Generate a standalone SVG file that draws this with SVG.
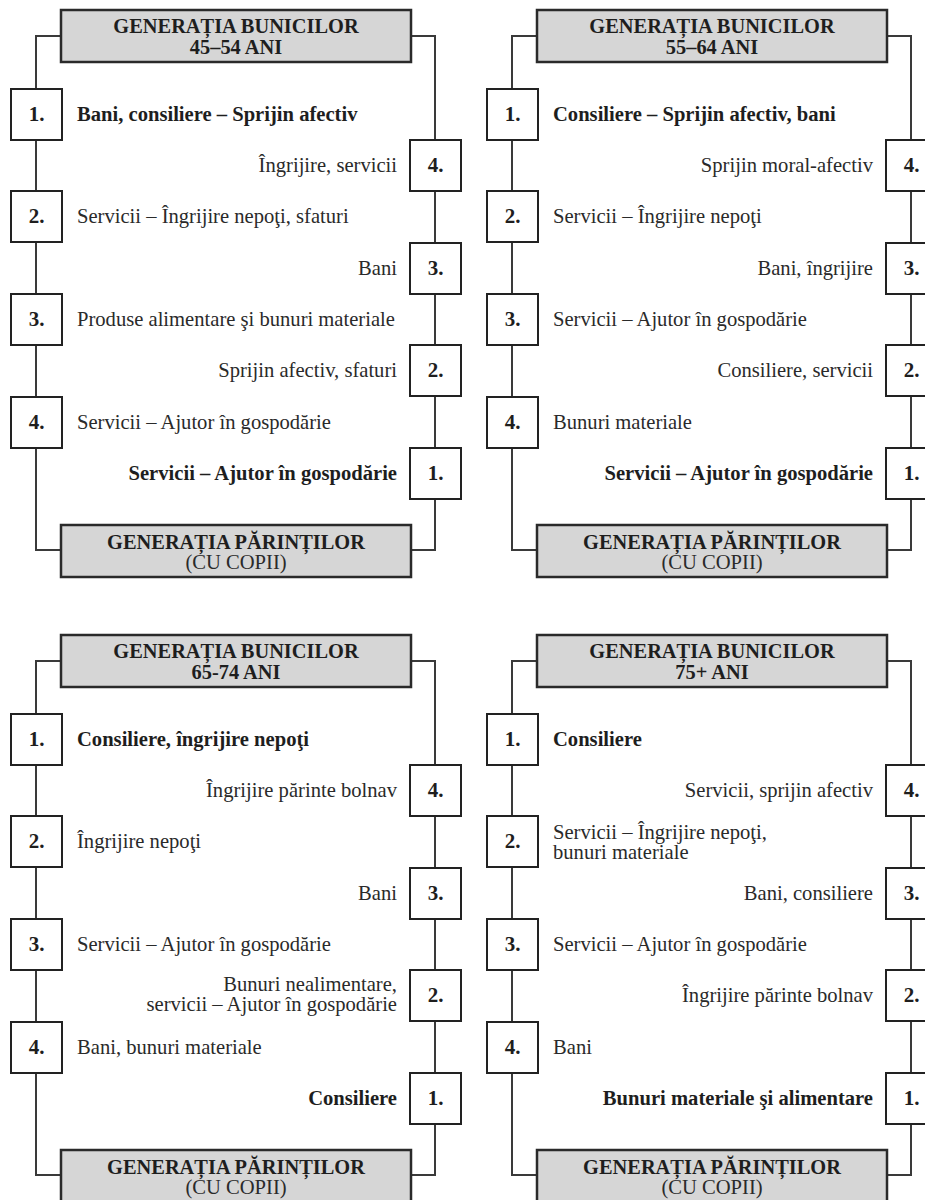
<svg xmlns="http://www.w3.org/2000/svg" width="925" height="1200" viewBox="0 0 925 1200">
<style>
.bg{fill:#ffffff}
.gen{fill:#d6d6d6;stroke:#2a2a2a;stroke-width:2.5}
.num{fill:#ffffff;stroke:#222;stroke-width:2}
.conn{fill:none;stroke:#3a3a3a;stroke-width:2}
text{font-family:"Liberation Serif","Times New Roman",serif;font-size:20.6px;fill:#2a2a2a}
.b{font-weight:bold;fill:#1e1e1e}
.h{font-weight:bold;font-size:20.4px;text-anchor:middle;fill:#1e1e1e}
.hr{font-size:20.6px;text-anchor:middle}
.n{font-weight:bold;font-size:21px;text-anchor:middle;fill:#1e1e1e}
.r{text-anchor:end}
</style>
<defs>
<path id="links" d="M61,36 H36 V550 H61 M411,36 H435 V550 H411"/>
</defs>
<rect class="bg" x="0" y="0" width="925" height="1200"/>

<!-- Connectors -->
<g id="connectors" class="conn">
<use href="#links" transform="translate(0,0)"/>
<use href="#links" transform="translate(476,0)"/>
<use href="#links" transform="translate(0,625)"/>
<use href="#links" transform="translate(476,625)"/>
</g>

<!-- Panel A -->
<g id="panelA">
<g id="A-top"><rect class="gen" x="61" y="10" width="350" height="52"/><text class="h" x="236" y="33">GENERAȚIA BUNICILOR</text><text class="h" x="236" y="54">45–54 ANI</text></g>
<g id="A-bottom"><rect class="gen" x="61" y="525" width="350" height="52"/><text class="h" x="236" y="549">GENERAȚIA PĂRINȚILOR</text><text class="hr" x="236" y="569">(CU COPII)</text></g>
<g id="A-L1"><rect class="num" x="11" y="89" width="51" height="51"/><text class="n" x="36.5" y="121">1.</text><text class="b" x="77" y="121">Bani, consiliere – Sprijin afectiv</text></g>
<g id="A-L2"><rect class="num" x="11" y="191" width="51" height="51"/><text class="n" x="36.5" y="223">2.</text><text x="77" y="223">Servicii – Îngrijire nepoţi, sfaturi</text></g>
<g id="A-L3"><rect class="num" x="11" y="294" width="51" height="51"/><text class="n" x="36.5" y="326">3.</text><text x="77" y="326">Produse alimentare şi bunuri materiale</text></g>
<g id="A-L4"><rect class="num" x="11" y="397" width="51" height="51"/><text class="n" x="36.5" y="429">4.</text><text x="77" y="429">Servicii – Ajutor în gospodărie</text></g>
<g id="A-R4"><rect class="num" x="410" y="140" width="51" height="51"/><text class="n" x="435.5" y="172">4.</text><text class="r" x="397" y="172">Îngrijire, servicii</text></g>
<g id="A-R3"><rect class="num" x="410" y="243" width="51" height="51"/><text class="n" x="435.5" y="275">3.</text><text class="r" x="397" y="275">Bani</text></g>
<g id="A-R2"><rect class="num" x="410" y="345" width="51" height="51"/><text class="n" x="435.5" y="377">2.</text><text class="r" x="397" y="377">Sprijin afectiv, sfaturi</text></g>
<g id="A-R1"><rect class="num" x="410" y="448" width="51" height="51"/><text class="n" x="435.5" y="480">1.</text><text class="r b" x="397" y="480">Servicii – Ajutor în gospodărie</text></g>
</g>

<!-- Panel B -->
<g id="panelB" transform="translate(476,0)">
<g id="B-top"><rect class="gen" x="61" y="10" width="350" height="52"/><text class="h" x="236" y="33">GENERAȚIA BUNICILOR</text><text class="h" x="236" y="54">55–64 ANI</text></g>
<g id="B-bottom"><rect class="gen" x="61" y="525" width="350" height="52"/><text class="h" x="236" y="549">GENERAȚIA PĂRINȚILOR</text><text class="hr" x="236" y="569">(CU COPII)</text></g>
<g id="B-L1"><rect class="num" x="11" y="89" width="51" height="51"/><text class="n" x="36.5" y="121">1.</text><text class="b" x="77" y="121">Consiliere – Sprijin afectiv, bani</text></g>
<g id="B-L2"><rect class="num" x="11" y="191" width="51" height="51"/><text class="n" x="36.5" y="223">2.</text><text x="77" y="223">Servicii – Îngrijire nepoţi</text></g>
<g id="B-L3"><rect class="num" x="11" y="294" width="51" height="51"/><text class="n" x="36.5" y="326">3.</text><text x="77" y="326">Servicii – Ajutor în gospodărie</text></g>
<g id="B-L4"><rect class="num" x="11" y="397" width="51" height="51"/><text class="n" x="36.5" y="429">4.</text><text x="77" y="429">Bunuri materiale</text></g>
<g id="B-R4"><rect class="num" x="410" y="140" width="51" height="51"/><text class="n" x="435.5" y="172">4.</text><text class="r" x="397" y="172">Sprijin moral-afectiv</text></g>
<g id="B-R3"><rect class="num" x="410" y="243" width="51" height="51"/><text class="n" x="435.5" y="275">3.</text><text class="r" x="397" y="275">Bani, îngrijire</text></g>
<g id="B-R2"><rect class="num" x="410" y="345" width="51" height="51"/><text class="n" x="435.5" y="377">2.</text><text class="r" x="397" y="377">Consiliere, servicii</text></g>
<g id="B-R1"><rect class="num" x="410" y="448" width="51" height="51"/><text class="n" x="435.5" y="480">1.</text><text class="r b" x="397" y="480">Servicii – Ajutor în gospodărie</text></g>
</g>

<!-- Panel C -->
<g id="panelC" transform="translate(0,625)">
<g id="C-top"><rect class="gen" x="61" y="10" width="350" height="52"/><text class="h" x="236" y="33">GENERAȚIA BUNICILOR</text><text class="h" x="236" y="54">65-74 ANI</text></g>
<g id="C-bottom"><rect class="gen" x="61" y="525" width="350" height="52"/><text class="h" x="236" y="549">GENERAȚIA PĂRINȚILOR</text><text class="hr" x="236" y="569">(CU COPII)</text></g>
<g id="C-L1"><rect class="num" x="11" y="89" width="51" height="51"/><text class="n" x="36.5" y="121">1.</text><text class="b" x="77" y="121">Consiliere, îngrijire nepoţi</text></g>
<g id="C-L2"><rect class="num" x="11" y="191" width="51" height="51"/><text class="n" x="36.5" y="223">2.</text><text x="77" y="223">Îngrijire nepoţi</text></g>
<g id="C-L3"><rect class="num" x="11" y="294" width="51" height="51"/><text class="n" x="36.5" y="326">3.</text><text x="77" y="326">Servicii – Ajutor în gospodărie</text></g>
<g id="C-L4"><rect class="num" x="11" y="397" width="51" height="51"/><text class="n" x="36.5" y="429">4.</text><text x="77" y="429">Bani, bunuri materiale</text></g>
<g id="C-R4"><rect class="num" x="410" y="140" width="51" height="51"/><text class="n" x="435.5" y="172">4.</text><text class="r" x="397" y="172">Îngrijire părinte bolnav</text></g>
<g id="C-R3"><rect class="num" x="410" y="243" width="51" height="51"/><text class="n" x="435.5" y="275">3.</text><text class="r" x="397" y="275">Bani</text></g>
<g id="C-R2"><rect class="num" x="410" y="345" width="51" height="51"/><text class="n" x="435.5" y="377">2.</text><text class="r" x="397" y="366">Bunuri nealimentare,</text><text class="r" x="397" y="386">servicii – Ajutor în gospodărie</text></g>
<g id="C-R1"><rect class="num" x="410" y="448" width="51" height="51"/><text class="n" x="435.5" y="480">1.</text><text class="r b" x="397" y="480">Consiliere</text></g>
</g>

<!-- Panel D -->
<g id="panelD" transform="translate(476,625)">
<g id="D-top"><rect class="gen" x="61" y="10" width="350" height="52"/><text class="h" x="236" y="33">GENERAȚIA BUNICILOR</text><text class="h" x="236" y="54">75+ ANI</text></g>
<g id="D-bottom"><rect class="gen" x="61" y="525" width="350" height="52"/><text class="h" x="236" y="549">GENERAȚIA PĂRINȚILOR</text><text class="hr" x="236" y="569">(CU COPII)</text></g>
<g id="D-L1"><rect class="num" x="11" y="89" width="51" height="51"/><text class="n" x="36.5" y="121">1.</text><text class="b" x="77" y="121">Consiliere</text></g>
<g id="D-L2"><rect class="num" x="11" y="191" width="51" height="51"/><text class="n" x="36.5" y="223">2.</text><text x="77" y="214">Servicii – Îngrijire nepoţi,</text><text x="77" y="234">bunuri materiale</text></g>
<g id="D-L3"><rect class="num" x="11" y="294" width="51" height="51"/><text class="n" x="36.5" y="326">3.</text><text x="77" y="326">Servicii – Ajutor în gospodărie</text></g>
<g id="D-L4"><rect class="num" x="11" y="397" width="51" height="51"/><text class="n" x="36.5" y="429">4.</text><text x="77" y="429">Bani</text></g>
<g id="D-R4"><rect class="num" x="410" y="140" width="51" height="51"/><text class="n" x="435.5" y="172">4.</text><text class="r" x="397" y="172">Servicii, sprijin afectiv</text></g>
<g id="D-R3"><rect class="num" x="410" y="243" width="51" height="51"/><text class="n" x="435.5" y="275">3.</text><text class="r" x="397" y="275">Bani, consiliere</text></g>
<g id="D-R2"><rect class="num" x="410" y="345" width="51" height="51"/><text class="n" x="435.5" y="377">2.</text><text class="r" x="397" y="377">Îngrijire părinte bolnav</text></g>
<g id="D-R1"><rect class="num" x="410" y="448" width="51" height="51"/><text class="n" x="435.5" y="480">1.</text><text class="r b" x="397" y="480">Bunuri materiale şi alimentare</text></g>
</g>
</svg>
